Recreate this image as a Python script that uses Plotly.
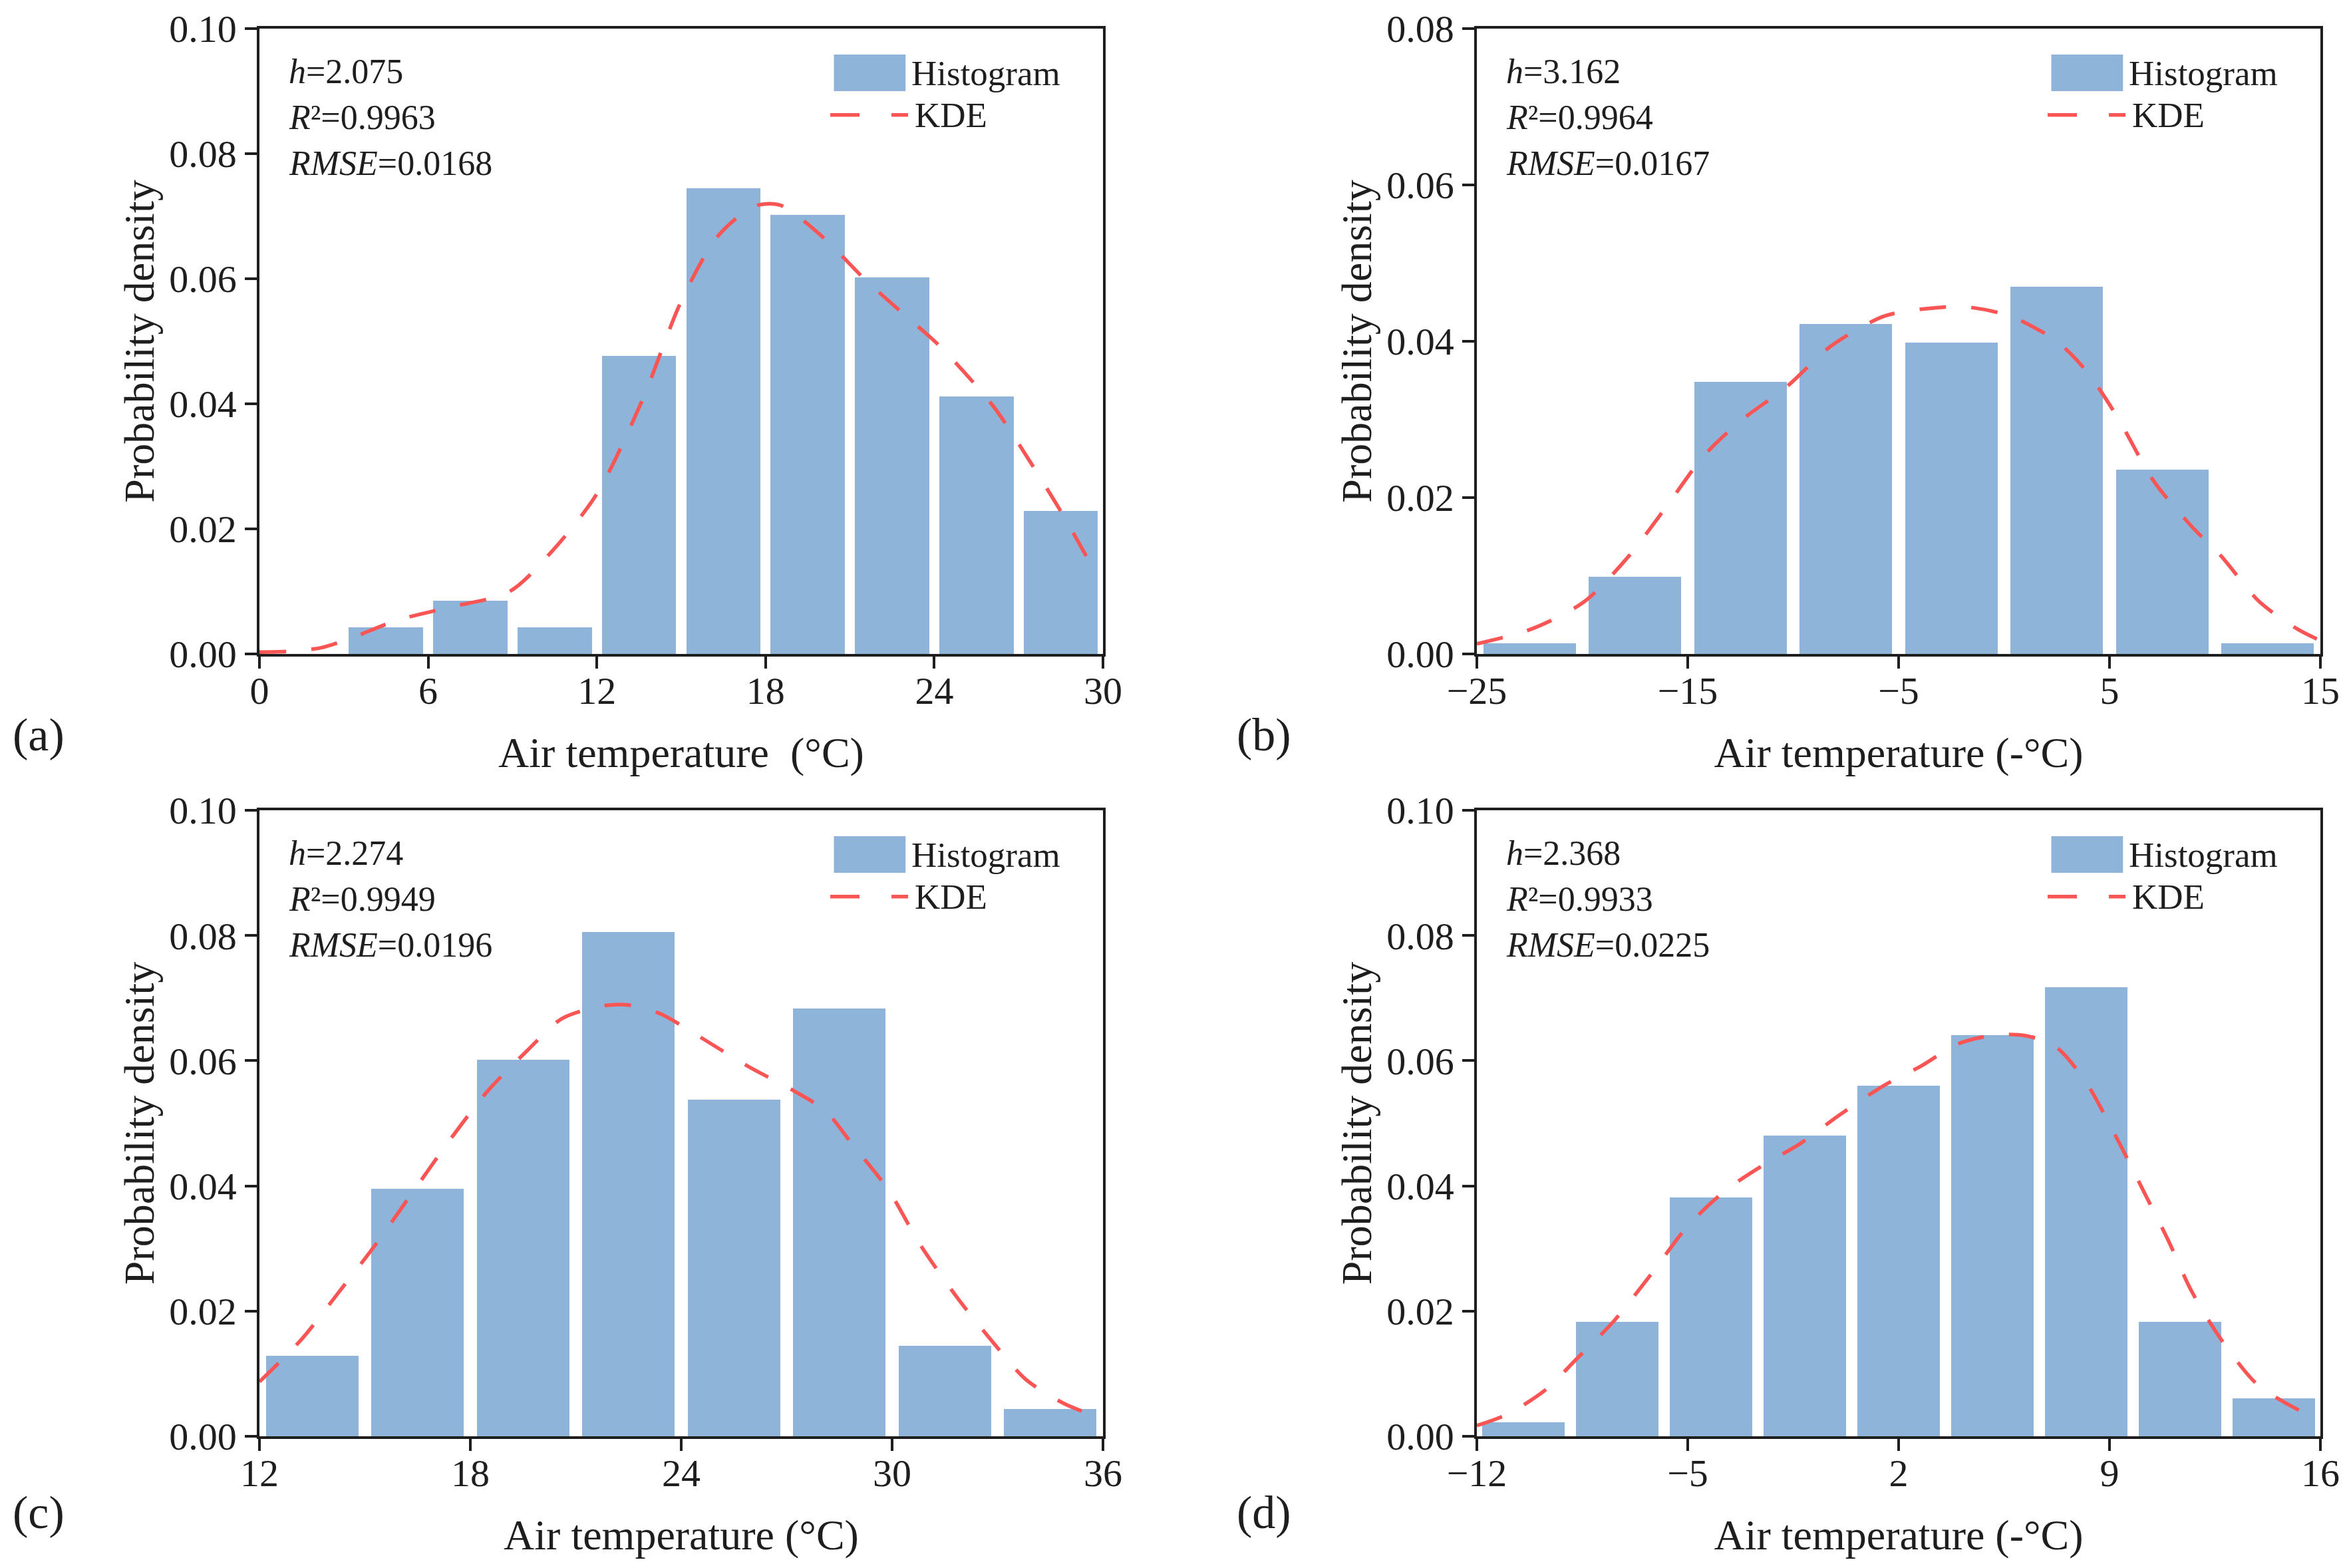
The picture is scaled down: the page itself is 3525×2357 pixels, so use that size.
import plotly.graph_objects as go

# ---------------- data ----------------
# (a)
a_edges = [3, 6, 9, 12, 15, 18, 21, 24, 27, 30]
a_density = [0.0043, 0.0085, 0.0043, 0.0477, 0.0745, 0.0702, 0.0602, 0.0412, 0.0229]
a_kde_x = [0, 1.0, 2.2, 3.3, 4.9, 6.7, 8.9, 10.4, 12.0, 13.6, 15.0, 16.3, 17.6, 18.5,
           20.0, 21.6, 23.0, 24.2, 26.1, 27.4, 28.5, 29.6]
a_kde_y = [0.0003, 0.0004, 0.0010, 0.0026, 0.0054, 0.0074, 0.0100, 0.0164, 0.0256, 0.0404,
           0.0564, 0.0668, 0.0716, 0.0718, 0.0668, 0.0596, 0.0540, 0.0492, 0.0396, 0.0308,
           0.0228, 0.0141]
a_stats = ["2.075", "0.9963", "0.0168"]
a_xticks = [0, 6, 12, 18, 24, 30]
a_yticks = [0.00, 0.02, 0.04, 0.06, 0.08, 0.10]

# (b)
b_edges = [-25, -20, -15, -10, -5, 0, 5, 10, 15]
b_density = [0.0014, 0.0099, 0.0348, 0.0422, 0.0398, 0.0470, 0.0236, 0.0014]
b_kde_x = [-25, -22.4, -19.9, -17.8, -16.0, -14.25, -12.5, -10.3, -8.2, -5.7, -3.6, -1.8,
           0.3, 2.5, 3.9, 5.35, 7.1, 8.9, 10.3, 12.1, 13.9, 15]
b_kde_y = [0.0013, 0.0032, 0.0067, 0.0125, 0.0189, 0.0253, 0.0298, 0.0342, 0.0394, 0.0432,
           0.0442, 0.0444, 0.0432, 0.0400, 0.0362, 0.0304, 0.0221, 0.0163, 0.0125, 0.0067,
           0.0032, 0.0017]
b_stats = ["3.162", "0.9964", "0.0167"]
b_xticks = [-25, -15, -5, 5, 15]
b_yticks = [0.00, 0.02, 0.04, 0.06, 0.08]

# (c)
c_edges = [12, 15, 18, 21, 24, 27, 30, 33, 36]
c_density = [0.0129, 0.0395, 0.0602, 0.0806, 0.0538, 0.0683, 0.0145, 0.0044]
c_kde_x = [12, 13.2, 14.2, 15.3, 16.4, 17.4, 18.5, 19.6, 20.6, 21.7, 22.5, 23.4, 24.5,
           25.9, 27.2, 28.1, 28.9, 29.9, 30.8, 31.9, 32.8, 33.8, 34.9, 35.7]
c_kde_y = [0.0087, 0.0155, 0.0226, 0.0306, 0.0393, 0.0472, 0.0552, 0.0615, 0.0667, 0.0687,
           0.0689, 0.0675, 0.0639, 0.0591, 0.0552, 0.0520, 0.0464, 0.0393, 0.0306, 0.0218,
           0.0155, 0.0091, 0.0052, 0.0034]
c_stats = ["2.274", "0.9949", "0.0196"]
c_xticks = [12, 18, 24, 30, 36]
c_yticks = [0.00, 0.02, 0.04, 0.06, 0.08, 0.10]

# (d)
d_edges = [-12, -8.89, -5.78, -2.67, 0.44, 3.56, 6.67, 9.78, 12.89, 16]
d_density = [0.0022, 0.0183, 0.0381, 0.0480, 0.0560, 0.0641, 0.0717, 0.0183, 0.0061]
d_kde_x = [-12, -10.95, -9.7, -8.7, -7.47, -6.23, -4.98, -3.74, -2.5, -1.25, 0.0, 1.5,
           2.73, 3.98, 5.2, 6.2, 7.2, 8.2, 9.2, 10.2, 10.95, 11.7, 12.7, 13.9, 15.2, 16]
d_kde_y = [0.0017, 0.0036, 0.0075, 0.0123, 0.0183, 0.0258, 0.0337, 0.0393, 0.0433, 0.0468,
           0.0512, 0.0560, 0.0591, 0.0627, 0.0641, 0.0640, 0.0623, 0.0567, 0.0480, 0.0385,
           0.0313, 0.0234, 0.0155, 0.0083, 0.0044, 0.0029]
d_stats = ["2.368", "0.9933", "0.0225"]
d_xticks = [-12, -5, 2, 9, 16]
d_yticks = [0.00, 0.02, 0.04, 0.06, 0.08, 0.10]

panel_labels = ["(a)", "(b)", "(c)", "(d)"]
x_titles = ["Air temperature  (°C)", "Air temperature (-°C)",
            "Air temperature (°C)", "Air temperature (-°C)"]
y_title = "Probability density"
legend_names = ["Histogram", "KDE"]

# ---------------- style ----------------
FONT = "Liberation Serif, Times New Roman, serif"
BAR_COLOR = "#8FB4DA"
KDE_COLOR = "#FA5555"
INK = "#1E1E1E"
W, H = 3525, 2357
OFF = 8  # page body margin offset


def px_x(v):
    return (v - OFF) / W


def px_y(v):
    return 1 - (v - OFF) / H


panels = [
    dict(edges=a_edges, dens=a_density, kx=a_kde_x, ky=a_kde_y, stats=a_stats,
         xt=a_xticks, yt=a_yticks, xd=[px_x(390), px_x(1658)], yd=[px_y(983), px_y(43)]),
    dict(edges=b_edges, dens=b_density, kx=b_kde_x, ky=b_kde_y, stats=b_stats,
         xt=b_xticks, yt=b_yticks, xd=[px_x(2220), px_x(3488)], yd=[px_y(983), px_y(43)]),
    dict(edges=c_edges, dens=c_density, kx=c_kde_x, ky=c_kde_y, stats=c_stats,
         xt=c_xticks, yt=c_yticks, xd=[px_x(390), px_x(1658)], yd=[px_y(2159), px_y(1218)]),
    dict(edges=d_edges, dens=d_density, kx=d_kde_x, ky=d_kde_y, stats=d_stats,
         xt=d_xticks, yt=d_yticks, xd=[px_x(2220), px_x(3488)], yd=[px_y(2159), px_y(1218)]),
]

fig = go.Figure()
annotations = []
shapes = []
layout = {}

for i, p in enumerate(panels):
    n = i + 1
    sx = "" if n == 1 else str(n)
    xref, yref = "x" + sx, "y" + sx
    edges = p["edges"]
    centers = [(edges[k] + edges[k + 1]) / 2 for k in range(len(edges) - 1)]
    widths = [0.88 * (edges[k + 1] - edges[k]) for k in range(len(edges) - 1)]

    fig.add_trace(go.Bar(x=centers, y=p["dens"], width=widths, marker_color=BAR_COLOR,
                         marker_line_width=0, name=legend_names[0], showlegend=False,
                         xaxis=xref, yaxis=yref))
    fig.add_trace(go.Scatter(x=p["kx"], y=p["ky"], mode="lines", name=legend_names[1],
                             line=dict(color=KDE_COLOR, width=5.5, dash="40px,38px",
                                       shape="spline", smoothing=0.8),
                             showlegend=False, xaxis=xref, yaxis=yref, cliponaxis=True))

    axcommon = dict(showline=True, linecolor=INK, linewidth=3.5, mirror=True,
                    ticks="outside", ticklen=18, tickwidth=3.5, tickcolor=INK,
                    showgrid=False, zeroline=False, automargin=False,
                    tickfont=dict(family=FONT, size=58, color=INK))
    layout["xaxis" + sx] = dict(axcommon, domain=p["xd"], anchor=yref,
                                range=[p["xt"][0], p["xt"][-1]], tickvals=p["xt"],
                                ticklabelstandoff=-16,
                                title=dict(text=x_titles[i], standoff=39,
                                           font=dict(family=FONT, size=64, color=INK)))
    layout["yaxis" + sx] = dict(axcommon, domain=p["yd"], anchor=xref,
                                range=[p["yt"][0], p["yt"][-1]], tickvals=p["yt"],
                                tickformat=".2f", ticklabelstandoff=1,
                                title=dict(text=y_title, standoff=3,
                                           font=dict(family=FONT, size=64, color=INK)))

    xdom, ydom = xref + " domain", yref + " domain"
    # stats text
    stat_lines = ["<i>h</i>=" + p["stats"][0],
                  "<i>R</i>²=" + p["stats"][1],
                  "<i>RMSE</i>=" + p["stats"][2]]
    for t, yy in zip(stat_lines, [0.931, 0.8585, 0.785]):
        annotations.append(dict(text=t, xref=xdom, yref=ydom, x=0.033, y=yy,
                                xanchor="left", yanchor="middle", showarrow=False,
                                font=dict(family=FONT, size=52, color=INK)))
    # legend (drawn in axis-domain coordinates)
    shapes.append(dict(type="rect", xref=xdom, yref=ydom, x0=0.681, x1=0.766,
                       y0=0.900, y1=0.9585, fillcolor=BAR_COLOR, line=dict(width=0)))
    shapes.append(dict(type="line", xref=xdom, yref=ydom, x0=0.6767, x1=0.769,
                       y0=0.862, y1=0.862,
                       line=dict(color=KDE_COLOR, width=5.5, dash="44px,48px")))
    annotations.append(dict(text=legend_names[0], xref=xdom, yref=ydom, x=0.771, y=0.929,
                            xanchor="left", yanchor="middle", showarrow=False,
                            font=dict(family=FONT, size=53, color=INK)))
    annotations.append(dict(text=legend_names[1], xref=xdom, yref=ydom, x=0.775, y=0.862,
                            xanchor="left", yanchor="middle", showarrow=False,
                            font=dict(family=FONT, size=53, color=INK)))
    # panel label
    plx = px_x(58) if n in (1, 3) else px_x(1900)
    ply = px_y(1104) if n <= 2 else px_y(2273)
    annotations.append(dict(text=panel_labels[i], xref="paper", yref="paper", x=plx, y=ply,
                            xanchor="center", yanchor="middle", showarrow=False,
                            font=dict(family=FONT, size=70, color=INK)))

fig.update_layout(**layout)
fig.update_layout(width=W, height=H, margin=dict(l=0, r=0, t=0, b=0, autoexpand=False),
                  paper_bgcolor="white", plot_bgcolor="white", showlegend=False,
                  bargap=0, annotations=annotations, shapes=shapes,
                  font=dict(family=FONT, color=INK))

fig.write_html("out.html")
